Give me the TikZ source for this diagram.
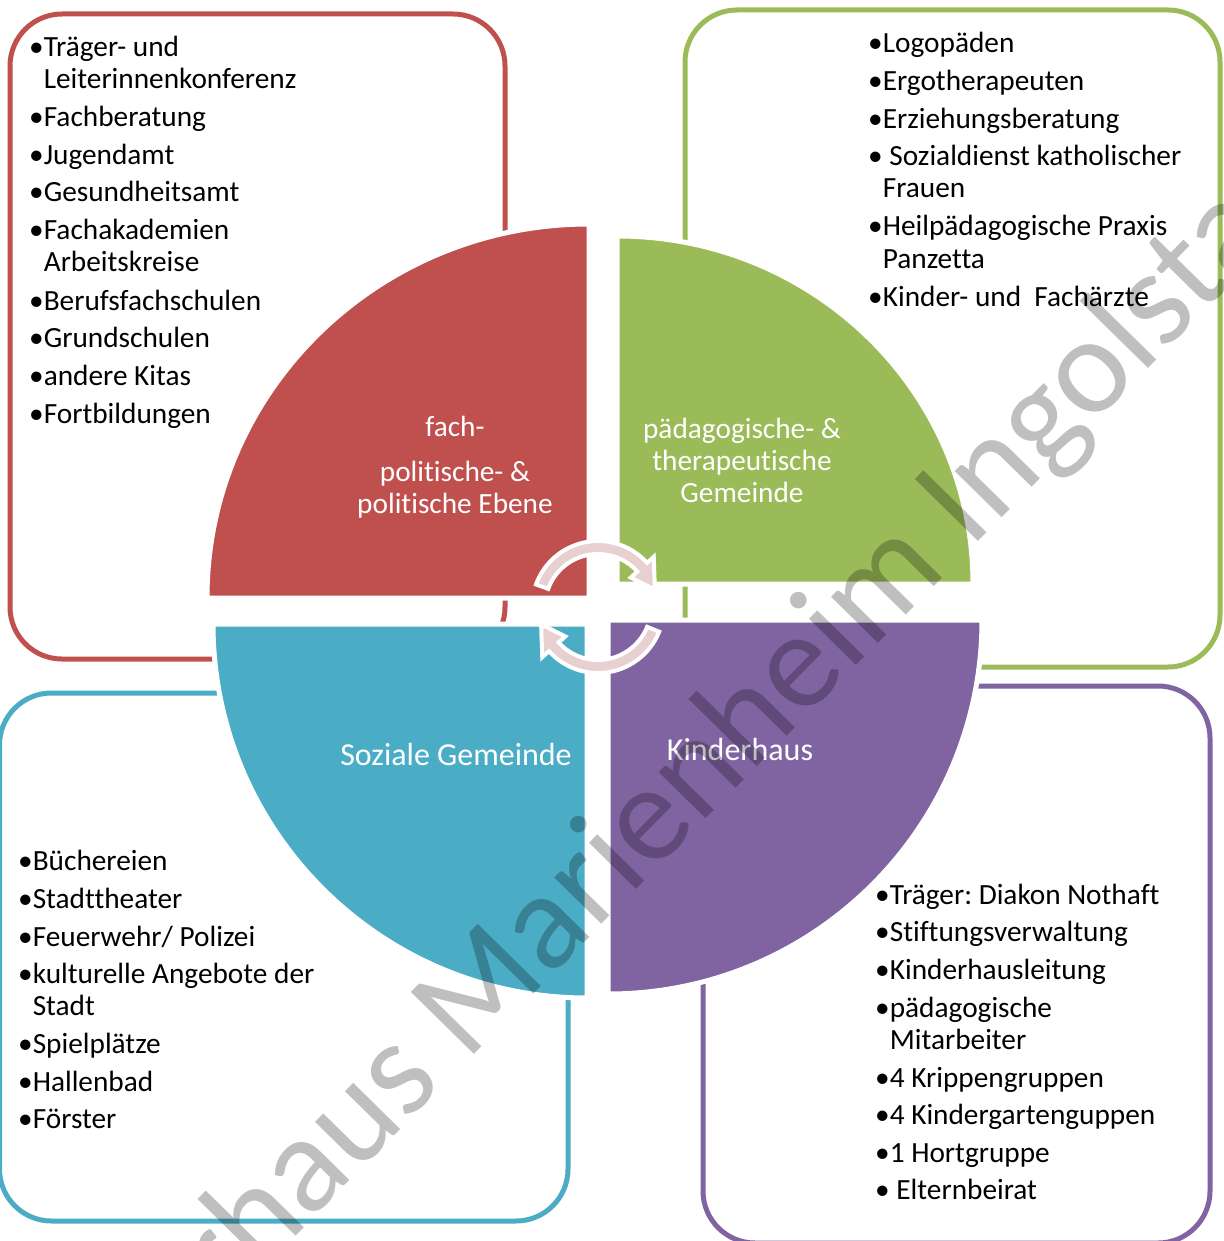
\documentclass[tikz,border=0pt]{standalone}
\usepackage{fontspec}
\setmainfont[Ligatures=NoCommon]{Carlito}
\usetikzlibrary{calc}
\definecolor{cred}{HTML}{C0504D}
\definecolor{cgreen}{HTML}{9BBB59}
\definecolor{cblue}{HTML}{4BACC6}
\definecolor{cpurple}{HTML}{8064A2}
\definecolor{cpink}{HTML}{E8D0D1}
\tikzset{
  frame/.style={line width=5pt, rounded corners=52pt},
  sector/.style={draw=white, line width=5pt},
  item/.style={anchor=base west, inner sep=0pt, font=\fontsize{29.3}{32}\selectfont, text=black},
  seclabel/.style={anchor=base, inner sep=0pt, font=\fontsize{29.3}{32}\selectfont, text=white},
  biglabel/.style={seclabel, font=\fontsize{32}{35}\selectfont},
  cyclearrow/.style={fill=cpink, draw=white, line width=4pt, line join=miter},
}
\begin{document}
\frenchspacing
\begin{tikzpicture}[x=1pt,y=-1pt]
\useasboundingbox (0,0) rectangle (1223,1241);
\clip (0,0) rectangle (1223,1241);

% frames
\draw[frame, cred] (10,14) rectangle (505,659);
\draw[frame, cgreen] (685,10) rectangle (1220,667);
\draw[frame, cblue] (-0.5,693) rectangle (568,1221);
\draw[frame, cpurple] (703,686) rectangle (1210,1243);

% sectors
\filldraw[sector, fill=cred] (589,598) -- (207,598) arc[start angle=180, end angle=270, x radius=382, y radius=374] -- cycle;
\filldraw[sector, fill=cgreen] (617,584) -- (617,236) arc[start angle=270, end angle=360, x radius=356, y radius=348] -- cycle;
\filldraw[sector, fill=cblue] (587,624) -- (213,624) arc[start angle=180, end angle=90, radius=374] -- cycle;
\filldraw[sector, fill=cpurple] (608,620) -- (982,620) arc[start angle=0, end angle=90, radius=374] -- cycle;

% cycle arrows
\coordinate (C) at (598,607);
\draw[cyclearrow] ($(C)+(200:66)$) arc[start angle=200, end angle=318, radius=66]
  -- ($(C)+(318:75)$) -- ($(C)+(343:59.5)$) -- ($(C)+(318:44)$) -- ($(C)+(318:53)$)
  arc[start angle=318, end angle=200, radius=53] -- cycle;
\draw[cyclearrow] ($(C)+(22:66)$) arc[start angle=22, end angle=138, radius=66]
  -- ($(C)+(138:75)$) -- ($(C)+(163:59.5)$) -- ($(C)+(138:44)$) -- ($(C)+(138:53)$)
  arc[start angle=138, end angle=22, radius=53] -- cycle;

% sector labels
\node[seclabel] (r1) at (455,436) {fach-};
\node[seclabel] (r2) at (455,481) {politische- \&};
\node[seclabel] (r3) at (455,513) {politische Ebene};
\node[seclabel] (g1) at (742,438) {pädagogische- \&};
\node[seclabel] (g2) at (742,470) {therapeutische};
\node[seclabel] (g3) at (742,502) {Gemeinde};
\node[biglabel] (b1) at (456,765) {Soziale Gemeinde};
\node[biglabel] (p1) at (740,760) {Kinderhaus};

% red list
\node[item] (ra) at (29,57) {•Träger- und};
\node[item] (rb) at (29,89) {\hphantom{•}Leiterinnenkonferenz};
\node[item] (rc) at (29,127) {•Fachberatung};
\node[item] (rd) at (29,165) {•Jugendamt};
\node[item] (re) at (29,202) {•Gesundheitsamt};
\node[item] (rf) at (29,240) {•Fachakademien};
\node[item] (rg) at (29,272) {\hphantom{•}Arbeitskreise};
\node[item] (rh) at (29,310) {•Berufsfachschulen};
\node[item] (ri) at (29,347) {•Grundschulen};
\node[item] (rj) at (29,385) {•andere Kitas};
\node[item] (rk) at (29,423) {•Fortbildungen};

% green list
\node[item] (ga) at (868,53) {•Logopäden};
\node[item] (gb) at (868,91) {•Ergotherapeuten};
\node[item] (gc) at (868,129) {•Erziehungsberatung};
\node[item] (gd) at (868,166) {• Sozialdienst katholischer};
\node[item] (ge) at (868,198) {\hphantom{•}Frauen};
\node[item] (gf) at (868,236) {•Heilpädagogische Praxis};
\node[item] (gg) at (868,269) {\hphantom{•}Panzetta};
\node[item] (gh) at (868,306) {•Kinder- und\ \ Fachärzte};

% blue list
\node[item] (ba) at (18,870) {•Büchereien};
\node[item] (bb) at (18,908) {•Stadttheater};
\node[item] (bc) at (18,946) {•Feuerwehr/ Polizei};
\node[item] (bd) at (18,983) {•kulturelle Angebote der};
\node[item] (be) at (18,1015) {\hphantom{•}Stadt};
\node[item] (bf) at (18,1053) {•Spielplätze};
\node[item] (bg) at (18,1091) {•Hallenbad};
\node[item] (bh) at (18,1128) {•Förster};

% purple list
\node[item] (pa) at (875,904) {•Träger: Diakon Nothaft};
\node[item] (pb) at (875,941) {•Stiftungsverwaltung};
\node[item] (pc) at (875,979) {•Kinderhausleitung};
\node[item] (pd) at (875,1017) {•pädagogische};
\node[item] (pe) at (875,1049) {\hphantom{•}Mitarbeiter};
\node[item] (pf) at (875,1087) {•4 Krippengruppen};
\node[item] (pg) at (875,1124) {•4 Kindergartenguppen};
\node[item] (ph) at (875,1162) {•1 Hortgruppe};
\node[item] (pi) at (875,1199) {• Elternbeirat};

% watermark
\node[anchor=base west, inner sep=0pt, rotate=45.5, text=black, text opacity=0.25,
  font=\fontsize{138}{138}\selectfont] (wm) at (3,1534) {Kinderhaus Marienheim Ingolstadt};
\end{tikzpicture}
\end{document}
